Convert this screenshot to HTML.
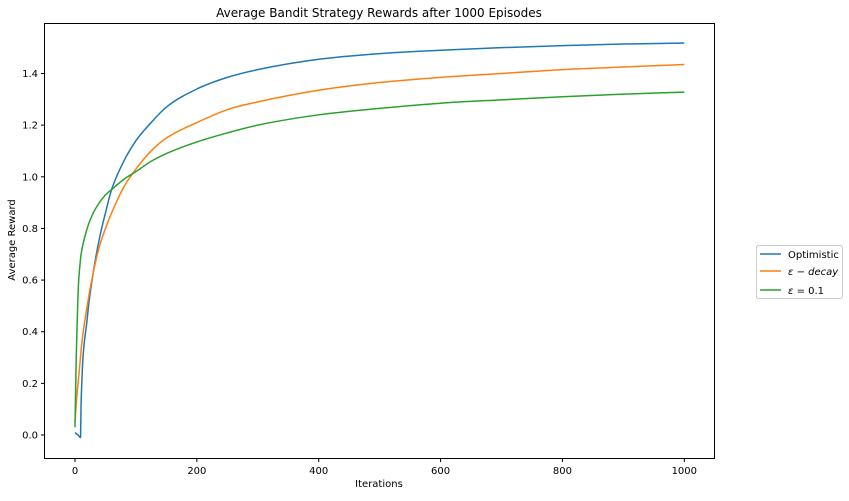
<!DOCTYPE html>
<html><head><meta charset="utf-8"><style>
body{margin:0;background:#fff;font-family:"Liberation Sans","DejaVu Sans",sans-serif;}
svg text{font-family:"DejaVu Sans","Liberation Sans",sans-serif;}
</style></head><body>
<svg id="chart" width="849" height="496">
<text x="379" y="17" font-size="12" text-anchor="middle" fill="#000">Average Bandit Strategy Rewards after 1000 Episodes</text>
<g id="plot"></g>
<rect x="44.5" y="23.5" width="670" height="435" fill="none" stroke="#000" stroke-width="1"/>
<text x="379" y="487" font-size="10" text-anchor="middle">Iterations</text>
<text transform="translate(15,240) rotate(-90)" font-size="10" text-anchor="middle">Average Reward</text>
<g>
<rect x="756.5" y="245.5" width="86" height="53" rx="2" fill="#fff" stroke="#ccc"/>
<line x1="760" y1="254" x2="781" y2="254" stroke="#1f77b4" stroke-width="1.5"/>
<text x="788" y="258" font-size="10">Optimistic</text>
<line x1="760" y1="271" x2="781" y2="271" stroke="#ff7f0e" stroke-width="1.5"/>
<text x="788" y="275" font-size="10" font-style="italic">ε − decay</text>
<line x1="760" y1="290" x2="781" y2="290" stroke="#2ca02c" stroke-width="1.5"/>
<text x="788" y="294" font-size="10"><tspan font-style="italic">ε</tspan> = 0.1</text>
</g>
</svg>
<script>
const xs=[0,2,5,9,10,20,30,40,50,60,80,100,125,150,200,250,300,400,500,600,700,800,900,1000];
const optimistic=[0.01,0.005,0.0,-0.01,0.12,0.45,0.63,0.76,0.86,0.95,1.06,1.14,1.21,1.27,1.34,1.385,1.415,1.455,1.477,1.49,1.5,1.508,1.514,1.518];
const epsDecay=[0.05,0.12,0.2,0.3,0.33,0.5,0.63,0.73,0.8,0.86,0.96,1.03,1.1,1.15,1.21,1.26,1.29,1.335,1.365,1.385,1.4,1.415,1.425,1.435];
const eps01=[0.03,0.3,0.55,0.68,0.7,0.8,0.86,0.9,0.93,0.95,0.99,1.02,1.06,1.09,1.135,1.17,1.2,1.24,1.265,1.285,1.298,1.31,1.32,1.328];
const xTicks=[0,200,400,600,800,1000];
const yTicks=[0.0,0.2,0.4,0.6,0.8,1.0,1.2,1.4];
const X=v=>75+v*(684.3-75)/1000;
const Y=v=>435-v*(435-73.5)/1.4;
const NS="http://www.w3.org/2000/svg";
const plot=document.getElementById('plot');
function mk(t,a){const e=document.createElementNS(NS,t);for(const k in a)e.setAttribute(k,a[k]);plot.appendChild(e);return e;}
xTicks.forEach(t=>{
 const l=mk('line',{x1:X(t),x2:X(t),y1:458.5,y2:462,stroke:'#000'});
 
 
 const tx=mk('text',{x:X(t),y:474,'font-size':10,'text-anchor':'middle'});tx.textContent=t;
 
 
});
yTicks.forEach(t=>{
 const l=mk('line',{x1:41,x2:44.5,y1:Y(t),y2:Y(t),stroke:'#000'});
 
 
 const tx=mk('text',{x:38,y:Y(t)+3.5,'font-size':10,'text-anchor':'end'});tx.textContent=t.toFixed(1);
 
 
});
function monoPath(px,py){
 const n=px.length,d=[],m=[];
 for(let i=0;i<n-1;i++)d.push((py[i+1]-py[i])/(px[i+1]-px[i]));
 m[0]=d[0];m[n-1]=d[n-2];
 for(let i=1;i<n-1;i++){m[i]=(d[i-1]*d[i]<=0)?0:(d[i-1]+d[i])/2;}
 for(let i=0;i<n-1;i++){if(d[i]===0){m[i]=0;m[i+1]=0;continue;}
  const a=m[i]/d[i],b=m[i+1]/d[i],s=a*a+b*b;
  if(s>9){const t=3/Math.sqrt(s);m[i]=t*a*d[i];m[i+1]=t*b*d[i];}}
 let s='M'+px[0].toFixed(2)+','+py[0].toFixed(2);
 for(let i=0;i<n-1;i++){const h=(px[i+1]-px[i])/3;
  s+='C'+(px[i]+h).toFixed(2)+','+(py[i]+m[i]*h).toFixed(2)+' '+(px[i+1]-h).toFixed(2)+','+(py[i+1]-m[i+1]*h).toFixed(2)+' '+px[i+1].toFixed(2)+','+py[i+1].toFixed(2);}
 return s;
}
function series(arr,color,name){
 const d=monoPath(xs.map(X),arr.map(Y));
 const p=mk('path',{d:d,fill:'none',stroke:color,'stroke-width':1.5,'stroke-linejoin':'round'});
 
 
}
series(optimistic,'#1f77b4','optimistic-line');
series(epsDecay,'#ff7f0e','eps-decay-line');
series(eps01,'#2ca02c','eps-0.1-line');
</script>
</body></html>
